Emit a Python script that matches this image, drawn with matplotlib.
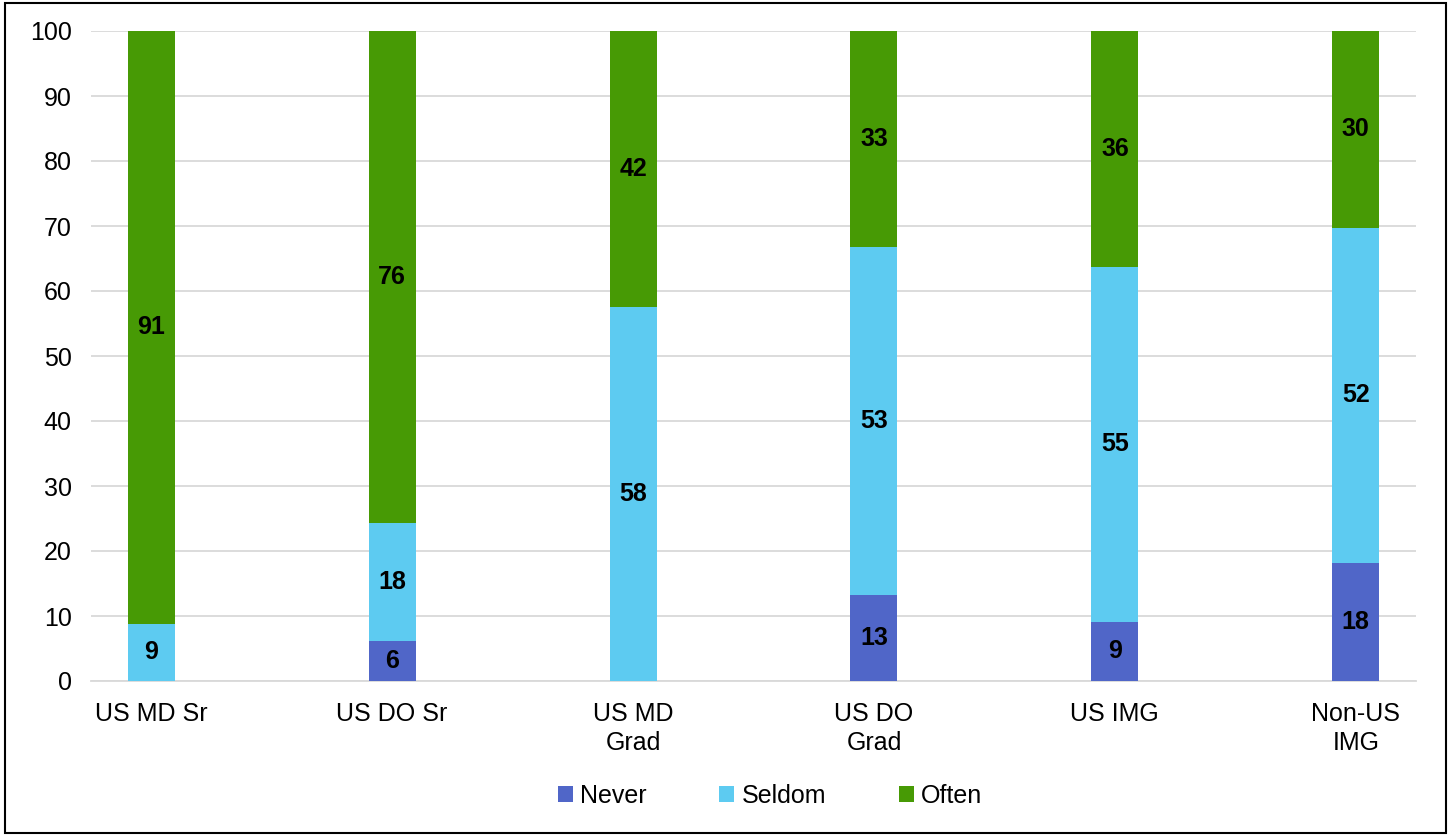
import matplotlib.pyplot as plt
import numpy as np
from matplotlib.patches import Rectangle

plt.rcParams['font.family'] = ['Liberation Sans', 'DejaVu Sans']

# Data
categories = ['US MD Sr', 'US DO Sr', 'US MD\nGrad', 'US DO\nGrad', 'US IMG', 'Non-US\nIMG']
never = [0.0, 6.1, 0.0, 13.3, 9.1, 18.2]
seldom = [8.8, 18.2, 57.6, 53.4, 54.6, 51.5]
often = [91.2, 75.7, 42.4, 33.3, 36.3, 30.3]
series_names = ['Never', 'Seldom', 'Often']
colors = ['#5066C8', '#5DCBF1', '#479A05']

fig = plt.figure(figsize=(14.52, 8.35), dpi=100)
ax = fig.add_axes([91 / 1452, 1 - 681 / 835, 1325 / 1452, 650 / 835])

x = np.arange(len(categories))
bottom = np.zeros(len(categories))
for vals, name, col in zip([never, seldom, often], series_names, colors):
    vals = np.array(vals)
    ax.bar(x, vals, width=0.195, bottom=bottom, color=col, label=name, zorder=3)
    for xi, b, v in zip(x, bottom, vals):
        if v >= 1:
            ax.text(xi, b + v / 2, f'{v:.0f}', ha='center', va='center',
                    fontsize=18, fontweight='bold', color='black', zorder=4)
    bottom += vals

ax.set_xlim(-0.25, 5.25)
ax.set_ylim(0, 100)
ax.set_yticks(range(0, 101, 10))
ax.yaxis.grid(True, color='#d9d9d9', linewidth=1.3, zorder=0)
ax.set_axisbelow(True)
for s in ['top', 'right', 'left']:
    ax.spines[s].set_visible(False)
ax.spines['bottom'].set_color('#d9d9d9')
ax.spines['bottom'].set_linewidth(1.3)
ax.tick_params(axis='both', length=0, labelsize=18)
ax.tick_params(axis='y', pad=14)
ax.tick_params(axis='x', pad=15)
ax.set_xticks(x)
ax.set_xticklabels(categories, linespacing=1.28)

fig.legend(loc='center', bbox_to_anchor=(770 / 1452, 1 - 796 / 835), ncol=3,
           frameon=False, fontsize=18, handlelength=0.6, handleheight=0.6,
           handletextpad=0.3, columnspacing=2.9)

# outer frame
fig.patches.append(Rectangle((5 / 1452, 2 / 835), 1441 / 1452, 830 / 835,
                             transform=fig.transFigure, fill=False,
                             edgecolor='black', linewidth=1.5))

fig.savefig('out.png', dpi=100)
